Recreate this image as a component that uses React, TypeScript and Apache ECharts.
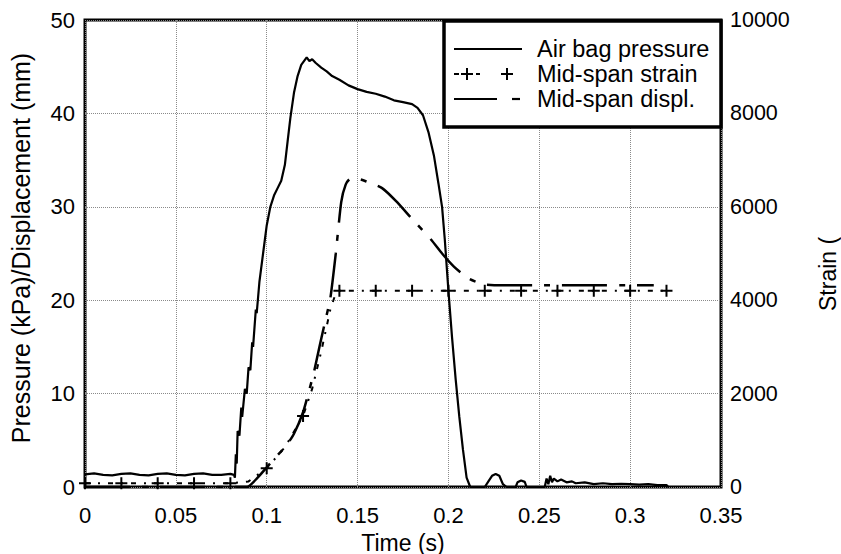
import React, { useEffect, useRef } from "react";
import * as echarts from "echarts";

// ---- Data ----
const pressureT = [
  0, 0.005, 0.01, 0.015, 0.02, 0.025, 0.03, 0.035, 0.04, 0.045, 0.05, 0.055, 0.06, 0.065, 0.07, 0.075, 0.08,
  0.082, 0.0825, 0.083, 0.0835, 0.084, 0.085, 0.086, 0.0865, 0.088, 0.089, 0.09, 0.091, 0.092, 0.0925, 0.094,
  0.0945, 0.096, 0.098, 0.1, 0.102, 0.104, 0.106, 0.108, 0.11, 0.1115, 0.113, 0.115, 0.117, 0.119, 0.122,
  0.1235, 0.125, 0.127, 0.13, 0.133, 0.136, 0.14, 0.145, 0.15, 0.155, 0.16, 0.165, 0.17, 0.175, 0.18, 0.183,
  0.186, 0.189, 0.192, 0.1945, 0.1965, 0.198, 0.2, 0.202, 0.204, 0.206, 0.208, 0.21, 0.212, 0.22, 0.222, 0.224,
  0.226, 0.228, 0.23, 0.232, 0.237, 0.238, 0.24, 0.242, 0.243, 0.253, 0.254, 0.255, 0.256, 0.257, 0.258, 0.26,
  0.262, 0.265, 0.268, 0.27, 0.275, 0.28, 0.285, 0.29, 0.295, 0.3, 0.305, 0.31, 0.315, 0.32, 0.321,
];
const pressureV = [
  1.35, 1.45, 1.3, 1.25, 1.4, 1.45, 1.3, 1.25, 1.4, 1.45, 1.3, 1.25, 1.4, 1.45, 1.3, 1.3, 1.4,
  1.3, 1.0, 3.5, 2.5, 6, 5.5, 8.5, 7.5, 10.5, 10, 12.8, 12.5, 15.5, 15, 19,
  18.6, 22, 25, 28, 30, 31.2, 32, 32.8, 34.5, 37, 39.5, 42.2, 44, 45.2, 46.0,
  45.6, 45.8, 45.4, 44.9, 44.5, 44.0, 43.6, 43.0, 42.6, 42.3, 42.1, 41.8, 41.4, 41.2, 41.0, 40.6,
  39.8, 38.0, 35.5, 32.5, 30.0, 26.5, 21, 16, 11.5, 7.5, 4, 1, 0, 0, 0.6, 1.2,
  1.4, 1.2, 0.3, 0, 0, 0.5, 0.7, 0.55, 0, 0, 0.9, 0.3, 1.2, 0.5, 0.9, 0.6,
  0.8, 0.5, 0.6, 0.4, 0.5, 0.3, 0.4, 0.3, 0.35, 0.3, 0.25, 0.3, 0.2, 0.2, 0,
];

const strainT = [0, 0.02, 0.04, 0.06, 0.08, 0.09, 0.1, 0.11, 0.12, 0.125, 0.13, 0.135, 0.138, 0.14, 0.16, 0.18, 0.2, 0.22, 0.24, 0.26, 0.28, 0.3, 0.32];
const strainV = [80, 80, 80, 80, 80, 120, 400, 850, 1520, 2100, 2900, 3800, 4150, 4200, 4200, 4200, 4200, 4200, 4200, 4200, 4200, 4200, 4200];

const dispT = [0, 0.089, 0.095, 0.1, 0.105, 0.1106, 0.115, 0.12, 0.1233, 0.126, 0.129, 0.132, 0.135, 0.138, 0.141, 0.1435, 0.146, 0.15, 0.155, 0.1635, 0.1712, 0.18, 0.1904, 0.1965, 0.203, 0.2113, 0.2196, 0.23, 0.25, 0.28, 0.3, 0.313];
const dispV = [0, 0, 1.0, 2.1, 3.2, 4.4, 5.7, 8.0, 10.3, 12.3, 15.0, 17.6, 20.2, 25.0, 30.5, 32.4, 33.0, 33.0, 32.7, 32.0, 30.6, 28.7, 26.5, 25.0, 23.6, 22.3, 21.7, 21.6, 21.6, 21.6, 21.6, 21.6];

const seriesNames = ["Air bag pressure", "Mid-span strain", "Mid-span displ."];
const xAxisTitle = "Time (s)";
const leftAxisTitle = "Pressure (kPa)/Displacement (mm)";
const rightAxisTitle = "Strain (";

const FONT = "Liberation Sans, Arial, Helvetica, sans-serif";
const PLUS = "path://M6,0L6,12M0,6L12,6";

function zip(t: number[], v: number[]) {
  return t.map((x, i) => [x, v[i]]);
}

export default function App() {
  const ref = useRef<HTMLDivElement>(null);
  useEffect(() => {
    if (!ref.current) return;
    const chart = echarts.init(ref.current, undefined, { renderer: "svg" });
    const isMarker = (t: number) => Math.abs(t / 0.02 - Math.round(t / 0.02)) < 1e-6;
    const lx = 454;
    const legendFont = `23.5px ${FONT}`;
    const option: any = {
      animation: false,
      backgroundColor: "#fff",
      grid: {
        left: 85, right: 120, top: 20, bottom: 67, show: true, borderColor: "#000", borderWidth: 3,
        backgroundColor: "transparent", containLabel: false, outerBoundsMode: "none",
      },
      xAxis: {
        type: "value", min: 0, max: 0.35, interval: 0.05,
        name: xAxisTitle, nameLocation: "middle", nameGap: 44,
        nameTextStyle: { fontFamily: FONT, fontSize: 23, color: "#000" },
        axisLine: { show: false }, axisTick: { show: false },
        axisLabel: { margin: 17, fontFamily: FONT, fontSize: 22, color: "#000", formatter: (v: number) => String(+v.toFixed(2)) },
        splitLine: { show: true, lineStyle: { type: "dotted", color: "#8a8a8a", width: 1 } },
      },
      yAxis: [
        {
          type: "value", min: 0, max: 50, interval: 10, position: "left",
          axisLine: { show: false }, axisTick: { show: false },
          axisLabel: { margin: 10, fontFamily: FONT, fontSize: 22, color: "#000" },
          splitLine: { show: true, lineStyle: { type: "dotted", color: "#8a8a8a", width: 1 } },
        },
        {
          type: "value", min: 0, max: 10000, interval: 2000, position: "right",
          axisLine: { show: false }, axisTick: { show: false },
          axisLabel: { margin: 9, fontFamily: FONT, fontSize: 21.5, color: "#000", formatter: (v: number) => String(v) },
          splitLine: { show: false },
        },
      ],
      series: [
        {
          name: seriesNames[0], type: "line", yAxisIndex: 0, data: zip(pressureT, pressureV),
          symbol: "none", lineStyle: { color: "#000", width: 2.2 }, z: 3, silent: true,
        },
        {
          name: seriesNames[1], type: "line", yAxisIndex: 1, data: zip(strainT, strainV),
          symbol: (v: number[]) => (isMarker(v[0]) ? PLUS : "none"), symbolSize: 12, showAllSymbol: true,
          itemStyle: { color: "#000", borderColor: "#000", borderWidth: 2 },
          lineStyle: { color: "#000", width: 2, type: [5, 8, 2, 8] }, z: 4, silent: true, clip: false,
        },
        {
          name: seriesNames[2], type: "line", yAxisIndex: 0, data: zip(dispT, dispV),
          symbol: "none", smooth: 0.2, lineStyle: { color: "#000", width: 2.5, type: [45, 12, 6, 12] }, z: 3, silent: true,
        },
      ],
      graphic: [
        {
          type: "text", x: 21, y: 248, rotation: Math.PI / 2, z: 50,
          style: { text: leftAxisTitle, font: `25px ${FONT}`, fill: "#000", align: "center", verticalAlign: "middle" },
        },
        {
          type: "text", x: 828, y: 311, rotation: Math.PI / 2, z: 50,
          style: { text: rightAxisTitle, font: `23px ${FONT}`, fill: "#000", align: "left", verticalAlign: "middle" },
        },
        {
          type: "group", z: 100,
          children: [
            { type: "rect", z: 100, shape: { x: 444, y: 21, width: 277, height: 106 }, style: { fill: "#fff", stroke: "#000", lineWidth: 3.5 } },
            { type: "line", z: 101, shape: { x1: lx, y1: 49, x2: 522, y2: 49 }, style: { stroke: "#000", lineWidth: 2 } },
            { type: "line", z: 101, shape: { x1: lx, y1: 74, x2: 459, y2: 74 }, style: { stroke: "#000", lineWidth: 2 } },
            { type: "line", z: 101, shape: { x1: 461, y1: 74, x2: 473, y2: 74 }, style: { stroke: "#000", lineWidth: 2 } },
            { type: "line", z: 101, shape: { x1: 467, y1: 68, x2: 467, y2: 80 }, style: { stroke: "#000", lineWidth: 2 } },
            { type: "line", z: 101, shape: { x1: 476, y1: 74, x2: 480, y2: 74 }, style: { stroke: "#000", lineWidth: 2 } },
            { type: "line", z: 101, shape: { x1: 501, y1: 74, x2: 513, y2: 74 }, style: { stroke: "#000", lineWidth: 2 } },
            { type: "line", z: 101, shape: { x1: 507, y1: 68, x2: 507, y2: 80 }, style: { stroke: "#000", lineWidth: 2 } },
            { type: "line", z: 101, shape: { x1: lx, y1: 99, x2: 497, y2: 99 }, style: { stroke: "#000", lineWidth: 2.2 } },
            { type: "line", z: 101, shape: { x1: 512, y1: 99, x2: 520, y2: 99 }, style: { stroke: "#000", lineWidth: 2.2 } },
            { type: "text", z: 101, x: 537, y: 49, style: { text: seriesNames[0], font: legendFont, fill: "#000", verticalAlign: "middle" } },
            { type: "text", z: 101, x: 537, y: 74, style: { text: seriesNames[1], font: legendFont, fill: "#000", verticalAlign: "middle" } },
            { type: "text", z: 101, x: 537, y: 99, style: { text: seriesNames[2], font: legendFont, fill: "#000", verticalAlign: "middle" } },
          ],
        },
      ],
    };
    chart.setOption(option);
    return () => chart.dispose();
  }, []);
  return <div ref={ref} style={{ position: "fixed", left: 0, top: 0, width: 841, height: 554, background: "#fff" }} />;
}
